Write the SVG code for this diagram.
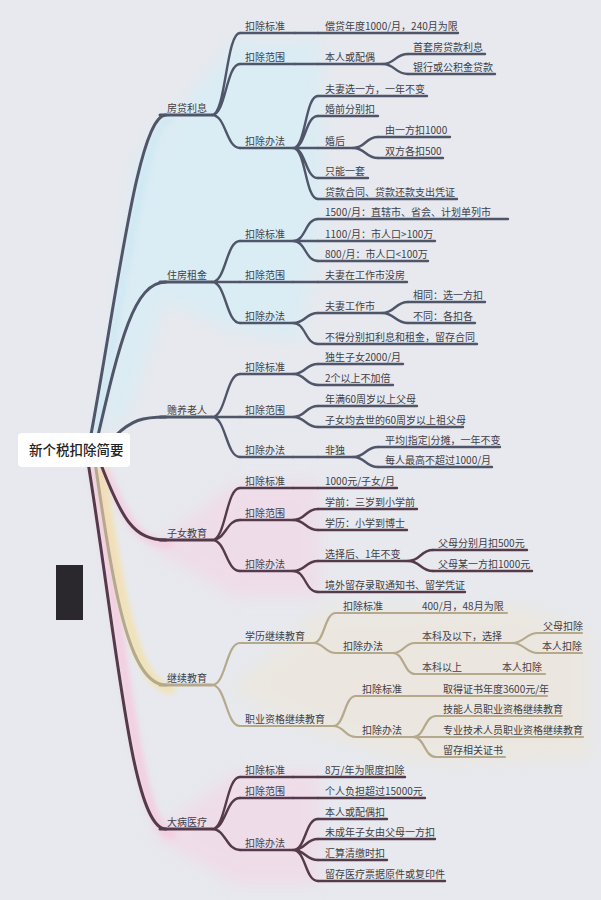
<svg xmlns="http://www.w3.org/2000/svg" width="601" height="900" viewBox="0 0 601 900">
<defs>
<filter id="blur" x="-50%" y="-50%" width="200%" height="200%"><feGaussianBlur stdDeviation="8"/></filter>
<filter id="glow" x="-50%" y="-50%" width="200%" height="200%"><feGaussianBlur stdDeviation="3"/></filter>
<style>
text{font-family:"Noto Sans CJK SC","Noto Sans",sans-serif;font-size:10px;fill:#404048}
.root{font-size:13.5px;fill:#222;font-weight:500}
path{fill:none;stroke-linecap:round}
.s{stroke:#50566a;stroke-width:2.4}
.p{stroke:#553a4b;stroke-width:2.4}
.y{stroke:#b5a98b;stroke-width:2.2}
.m{stroke-width:3}
</style>
</defs>
<rect width="601" height="900" fill="#e7e9ee"/>
<g id="tints">
<polygon filter="url(#blur)" fill="#d3eef8" opacity="0.6" points="105,430 135,160 170,120 235,40 320,40 325,210 300,340 230,330 165,300 125,420"/>
<polygon filter="url(#blur)" fill="#f5d3e4" opacity="0.55" points="150,548 235,482 320,482 320,598 235,598"/>
<polygon filter="url(#blur)" fill="#f5d3e4" opacity="0.55" points="150,835 235,772 320,772 320,885 235,885"/>
<polygon filter="url(#blur)" fill="#f3e4c8" opacity="0.35" points="230,690 320,610 520,605 590,630 590,760 430,765 320,735"/>
<path filter="url(#glow)" stroke="#c6e8f5" stroke-width="7" opacity="0.8" d="M96,434 C124,290 144,118 170,120"/>
<path filter="url(#glow)" stroke="#f7c5dc" stroke-width="9" opacity="0.8" d="M94,470 C124,650 138,834 172,834"/>
<path filter="url(#glow)" stroke="#f7c5dc" stroke-width="7" opacity="0.8" d="M105,470 C127,522 139,544 170,544"/>
<path filter="url(#glow)" stroke="#f8dd8c" stroke-width="7" opacity="0.75" d="M101,470 C119,585 134,689 172,689"/>
</g>
<rect x="56" y="565" width="27" height="55" fill="#2a282c"/>
<g id="connectors">
<path class="s m" d="M90,440 C118,290 138,115 166,115"/>
<path class="s m" d="M97,440 C120,340 134,282 166,282"/>
<path class="s m" d="M115,436 C132,420 142,417 166,417"/>
<path class="p m" d="M100,462 C122,520 134,540 166,540"/>
<path class="y m" d="M95,462 C113,585 128,685 166,685"/>
<path class="p m" d="M88,462 C118,650 132,829 166,829"/>
<path class="s" d="M212,115 C226,115 226,33 240,33 M212,115 C226,115 226,64 240,64 M212,115 C226,115 226,148 240,148"/>
<path class="s" d="M295,33 H318 M295,64 H318"/>
<path class="s" d="M383,64 C395,64 395,54 408,54 M383,64 C395,64 395,74 408,74"/>
<path class="s" d="M293,148 C306,148 305,96 318,96 M293,148 C306,148 305,116 318,116 M293,148 H318 M293,148 C306,148 305,178 318,178 M293,148 C306,148 305,199 318,199"/>
<path class="s" d="M353,148 C366,148 365,137 378,137 M353,148 C366,148 365,158 378,158"/>
<path class="s" d="M212,282 C226,282 226,241 240,241 M212,282 H240 M212,282 C226,282 226,323 240,323"/>
<path class="s" d="M293,241 C306,241 305,219 318,219 M293,241 H318 M293,241 C306,241 305,261 318,261"/>
<path class="s" d="M293,282 H318"/>
<path class="s" d="M293,323 C306,323 305,313 318,313 M293,323 C306,323 305,344 318,344"/>
<path class="s" d="M382,313 C395,313 395,302 408,302 M382,313 C395,313 395,323 408,323"/>
<path class="s" d="M212,417 C226,417 226,374 240,374 M212,417 H240 M212,417 C226,417 226,457 240,457"/>
<path class="s" d="M293,374 C306,374 305,364 318,364 M293,374 C306,374 305,385 318,385"/>
<path class="s" d="M293,417 C306,417 305,406 318,406 M293,417 C306,417 305,427 318,427"/>
<path class="s" d="M293,457 H318"/>
<path class="s" d="M353,457 C366,457 365,447 378,447 M353,457 C366,457 365,467 378,467"/>
<path class="p" d="M212,540 C226,540 226,488 240,488 M212,540 C226,540 226,520 240,520 M212,540 C226,540 226,571 240,571"/>
<path class="p" d="M293,488 H318"/>
<path class="p" d="M293,520 C306,520 305,509 318,509 M293,520 C306,520 305,530 318,530"/>
<path class="p" d="M293,571 C306,571 305,561 318,561 M293,571 C306,571 305,592 318,592"/>
<path class="p" d="M408,561 C421,561 420,550 433,550 M408,561 C421,561 420,571 433,571"/>
<path class="y" d="M212,685 C226,685 226,643 240,643 M212,685 C226,685 226,726 240,726"/>
<path class="y" d="M313,643 C325,643 324,613 336,613 M313,643 C325,643 324,653 336,653"/>
<path class="y" d="M392,613 H415"/>
<path class="y" d="M393,653 C404,653 404,643 415,643 M393,653 C404,653 404,674 415,674"/>
<path class="y" d="M512,643 C525,643 525,633 538,633 M512,643 C525,643 525,653 538,653"/>
<path class="y" d="M333,726 C345,726 344,696 356,696 M333,726 C345,726 344,737 356,737"/>
<path class="y" d="M413,737 C425,737 424,716 436,716 M413,737 H436 M413,737 C425,737 424,757 436,757"/>
<path class="p" d="M212,829 C226,829 226,777 240,777 M212,829 C226,829 226,798 240,798 M212,829 C226,829 226,850 240,850"/>
<path class="p" d="M293,777 H318 M293,798 H318"/>
<path class="p" d="M293,850 C306,850 305,819 318,819 M293,850 C306,850 305,839 318,839 M293,850 C306,850 305,860 318,860 M293,850 C306,850 305,881 318,881"/>
</g>
<g id="root"><rect x="18" y="433" width="112" height="34" rx="4" fill="#ffffff"/><text class="root" x="29" y="455">新个税扣除简要</text></g>
<g id="c1"><path class="s m" d="M160,115 H212"/><text x="167" y="112">房贷利息</text></g>
<g id="c1a"><path class="s" d="M240,33 H295"/><text x="245" y="30">扣除标准</text></g>
<g id="c1a1"><path class="s" d="M318,33 H458"/><text x="325" y="30">偿贷年度1000/月，240月为限</text></g>
<g id="c1b"><path class="s" d="M240,64 H295"/><text x="245" y="61">扣除范围</text></g>
<g id="c1b1"><path class="s" d="M318,64 H383"/><text x="325" y="61">本人或配偶</text></g>
<g id="c1b1a"><path class="s" d="M408,54 H485"/><text x="413" y="51">首套房贷款利息</text></g>
<g id="c1b1b"><path class="s" d="M408,74 H495"/><text x="413" y="71">银行或公积金贷款</text></g>
<g id="c1c"><path class="s" d="M240,148 H293"/><text x="245" y="145">扣除办法</text></g>
<g id="c1c1"><path class="s" d="M318,96 H427"/><text x="325" y="93">夫妻选一方，一年不变</text></g>
<g id="c1c2"><path class="s" d="M318,116 H378"/><text x="325" y="113">婚前分别扣</text></g>
<g id="c1c3"><path class="s" d="M318,148 H353"/><text x="325" y="145">婚后</text></g>
<g id="c1c3a"><path class="s" d="M378,137 H450"/><text x="385" y="134">由一方扣1000</text></g>
<g id="c1c3b"><path class="s" d="M378,158 H443"/><text x="385" y="155">双方各扣500</text></g>
<g id="c1c4"><path class="s" d="M318,178 H368"/><text x="325" y="175">只能一套</text></g>
<g id="c1c5"><path class="s" d="M318,199 H457"/><text x="325" y="196">贷款合同、贷款还款支出凭证</text></g>
<g id="c2"><path class="s m" d="M160,282 H212"/><text x="167" y="279">住房租金</text></g>
<g id="c2a"><path class="s" d="M240,241 H293"/><text x="245" y="238">扣除标准</text></g>
<g id="c2a1"><path class="s" d="M318,219 H508"/><text x="325" y="216">1500/月：直辖市、省会、计划单列市</text></g>
<g id="c2a2"><path class="s" d="M318,241 H435"/><text x="325" y="238">1100/月：市人口&gt;100万</text></g>
<g id="c2a3"><path class="s" d="M318,261 H428"/><text x="325" y="258">800/月：市人口&lt;100万</text></g>
<g id="c2b"><path class="s" d="M240,282 H293"/><text x="245" y="279">扣除范围</text></g>
<g id="c2b1"><path class="s" d="M318,282 H407"/><text x="325" y="279">夫妻在工作市没房</text></g>
<g id="c2c"><path class="s" d="M240,323 H293"/><text x="245" y="320">扣除办法</text></g>
<g id="c2c1"><path class="s" d="M318,313 H382"/><text x="325" y="310">夫妻工作市</text></g>
<g id="c2c1a"><path class="s" d="M408,302 H485"/><text x="413" y="299">相同：选一方扣</text></g>
<g id="c2c1b"><path class="s" d="M408,323 H475"/><text x="413" y="320">不同：各扣各</text></g>
<g id="c2c2"><path class="s" d="M318,344 H477"/><text x="325" y="341">不得分别扣利息和租金，留存合同</text></g>
<g id="c3"><path class="s m" d="M160,417 H212"/><text x="167" y="414">赡养老人</text></g>
<g id="c3a"><path class="s" d="M240,374 H293"/><text x="245" y="371">扣除标准</text></g>
<g id="c3a1"><path class="s" d="M318,364 H403"/><text x="325" y="361">独生子女2000/月</text></g>
<g id="c3a2"><path class="s" d="M318,385 H393"/><text x="325" y="382">2个以上不加倍</text></g>
<g id="c3b"><path class="s" d="M240,417 H293"/><text x="245" y="414">扣除范围</text></g>
<g id="c3b1"><path class="s" d="M318,406 H417"/><text x="325" y="403">年满60周岁以上父母</text></g>
<g id="c3b2"><path class="s" d="M318,427 H463"/><text x="325" y="424">子女均去世的60周岁以上祖父母</text></g>
<g id="c3c"><path class="s" d="M240,457 H293"/><text x="245" y="454">扣除办法</text></g>
<g id="c3c1"><path class="s" d="M318,457 H353"/><text x="325" y="454">非独</text></g>
<g id="c3c1a"><path class="s" d="M378,447 H500"/><text x="385" y="444">平均|指定|分摊，一年不变</text></g>
<g id="c3c1b"><path class="s" d="M378,467 H492"/><text x="385" y="464">每人最高不超过1000/月</text></g>
<g id="c4"><path class="p m" d="M160,540 H212"/><text x="167" y="537">子女教育</text></g>
<g id="c4a"><path class="p" d="M240,488 H293"/><text x="245" y="485">扣除标准</text></g>
<g id="c4a1"><path class="p" d="M318,488 H397"/><text x="325" y="485">1000元/子女/月</text></g>
<g id="c4b"><path class="p" d="M240,520 H293"/><text x="245" y="517">扣除范围</text></g>
<g id="c4b1"><path class="p" d="M318,509 H417"/><text x="325" y="506">学前：三岁到小学前</text></g>
<g id="c4b2"><path class="p" d="M318,530 H407"/><text x="325" y="527">学历：小学到博士</text></g>
<g id="c4c"><path class="p" d="M240,571 H293"/><text x="245" y="568">扣除办法</text></g>
<g id="c4c1"><path class="p" d="M318,561 H408"/><text x="325" y="558">选择后、1年不变</text></g>
<g id="c4c1a"><path class="p" d="M433,550 H527"/><text x="438" y="547">父母分别月扣500元</text></g>
<g id="c4c1b"><path class="p" d="M433,571 H532"/><text x="438" y="568">父母某一方扣1000元</text></g>
<g id="c4c2"><path class="p" d="M318,592 H465"/><text x="325" y="589">境外留存录取通知书、留学凭证</text></g>
<g id="c5"><path class="y m" d="M160,685 H212"/><text x="167" y="682">继续教育</text></g>
<g id="c5a"><path class="y" d="M240,643 H313"/><text x="245" y="640">学历继续教育</text></g>
<g id="c5a1"><path class="y" d="M336,613 H392"/><text x="343" y="610">扣除标准</text></g>
<g id="c5a1a"><path class="y" d="M415,613 H507"/><text x="422" y="610">400/月，48月为限</text></g>
<g id="c5a2"><path class="y" d="M336,653 H393"/><text x="343" y="650">扣除办法</text></g>
<g id="c5a2a"><path class="y" d="M415,643 H512"/><text x="422" y="640">本科及以下，选择</text></g>
<g id="c5a2a1"><path class="y" d="M538,633 H582"/><text x="543" y="630">父母扣除</text></g>
<g id="c5a2a2"><path class="y" d="M538,653 H582"/><text x="542" y="650">本人扣除</text></g>
<g id="c5a2b"><path class="y" d="M415,674 H462"/><text x="422" y="671">本科以上</text></g>
<g id="c5a2b1"><path class="y" d="M462,674 H545"/><text x="502" y="671">本人扣除</text></g>
<g id="c5b"><path class="y" d="M240,726 H333"/><text x="245" y="723">职业资格继续教育</text></g>
<g id="c5b1"><path class="y" d="M356,696 H412"/><text x="362" y="693">扣除标准</text></g>
<g id="c5b1a"><path class="y" d="M412,696 H547"/><text x="443" y="693">取得证书年度3600元/年</text></g>
<g id="c5b2"><path class="y" d="M356,737 H413"/><text x="362" y="734">扣除办法</text></g>
<g id="c5b2a"><path class="y" d="M436,716 H562"/><text x="443" y="713">技能人员职业资格继续教育</text></g>
<g id="c5b2b"><path class="y" d="M436,737 H583"/><text x="443" y="734">专业技术人员职业资格继续教育</text></g>
<g id="c5b2c"><path class="y" d="M436,757 H505"/><text x="443" y="754">留存相关证书</text></g>
<g id="c6"><path class="p m" d="M160,829 H212"/><text x="167" y="826">大病医疗</text></g>
<g id="c6a"><path class="p" d="M240,777 H293"/><text x="245" y="774">扣除标准</text></g>
<g id="c6a1"><path class="p" d="M318,777 H405"/><text x="325" y="774">8万/年为限度扣除</text></g>
<g id="c6b"><path class="p" d="M240,798 H293"/><text x="245" y="795">扣除范围</text></g>
<g id="c6b1"><path class="p" d="M318,798 H425"/><text x="325" y="795">个人负担超过15000元</text></g>
<g id="c6c"><path class="p" d="M240,850 H293"/><text x="245" y="847">扣除办法</text></g>
<g id="c6c1"><path class="p" d="M318,819 H387"/><text x="325" y="816">本人或配偶扣</text></g>
<g id="c6c2"><path class="p" d="M318,839 H435"/><text x="325" y="836">未成年子女由父母一方扣</text></g>
<g id="c6c3"><path class="p" d="M318,860 H387"/><text x="325" y="857">汇算清缴时扣</text></g>
<g id="c6c4"><path class="p" d="M318,881 H445"/><text x="325" y="878">留存医疗票据原件或复印件</text></g>
</svg>
